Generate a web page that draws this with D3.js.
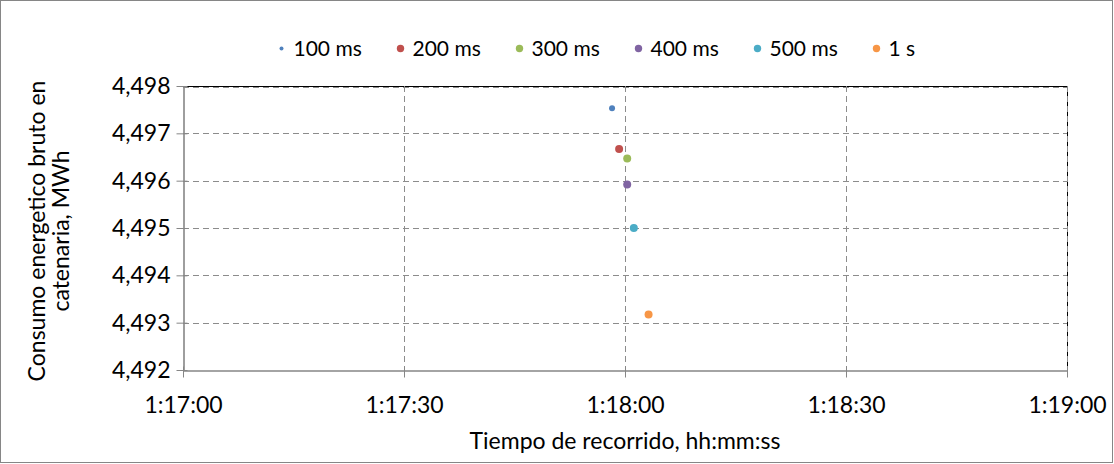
<!DOCTYPE html>
<html><head><meta charset="utf-8">
<script src="https://cdn.jsdelivr.net/npm/d3@7"></script>
<style>body{margin:0;background:#fff}text{font-family:Lato,"Open Sans",sans-serif;fill:#000}</style>
</head><body><svg id="c" width="1114" height="464"></svg>
<script>
const series = ["100 ms","200 ms","300 ms","400 ms","500 ms","1 s"];
const timesSec = [4678.24, 4679.2, 4680.3, 4680.3, 4681.2, 4683.2];
const energyMWh = [4.49753, 4.49667, 4.49647, 4.49592, 4.4950, 4.49317];
const colors = ["#4F81BD","#C0504D","#9BBB59","#8064A2","#4BACC6","#F79646"];
const xTicks = [4620, 4650, 4680, 4710, 4740];
const yTicks = [4.492, 4.493, 4.494, 4.495, 4.496, 4.497, 4.498];

const svg = d3.select("#c");
svg.append("rect").attr("x",0.5).attr("y",0.5).attr("width",1112).attr("height",462)
  .attr("fill","#fff").attr("stroke","#868686");
const L=183, R=1067, T=86, B=370;
const x = d3.scaleLinear().domain([4620,4740]).range([L,R]);
const y = d3.scaleLinear().domain([4.492,4.498]).range([B,T]);
const fmtT = s => { const h=Math.floor(s/3600), m=Math.floor(s%3600/60), ss=Math.round(s%60);
  return h+":"+String(m).padStart(2,"0")+":"+String(ss).padStart(2,"0"); };
const fmtY = v => d3.format(".3f")(v).replace(".",",");
const FS = "23px";

// plot border top/right
svg.append("path").attr("d",`M${L},${T+0.5}H${R+0.5}V${B}`).attr("fill","none").attr("stroke","#000");
// grid
svg.append("g").selectAll("line").data(yTicks.slice(1)).join("line")
  .attr("x1",L).attr("x2",R).attr("y1",d=>Math.round(y(d))+(d===4.498?1.5:0.5)).attr("y2",d=>Math.round(y(d))+(d===4.498?1.5:0.5))
  .attr("stroke","#8c8c8c").attr("stroke-dasharray","6,4");
svg.append("g").selectAll("line").data(xTicks.slice(1)).join("line")
  .attr("y1",T).attr("y2",B).attr("x1",d=>Math.round(x(d))+0.5).attr("x2",d=>Math.round(x(d))+0.5)
  .attr("stroke","#8c8c8c").attr("stroke-dasharray","6,4");

// axes
const yAxis = d3.axisLeft(y).tickValues(yTicks).tickFormat(fmtY).tickSizeInner(7).tickSizeOuter(0).tickPadding(6);
const gy = svg.append("g").attr("transform",`translate(${L+0.5},0)`).call(yAxis);
gy.select(".domain").attr("stroke","#868686").attr("stroke-width",1.6);
gy.selectAll(".tick line").attr("stroke","#868686").attr("x2",-7).attr("x1",4);
gy.selectAll(".tick text").attr("font-size",FS).attr("font-family","Lato,sans-serif");

const xAxis = d3.axisBottom(x).tickValues(xTicks).tickFormat(fmtT).tickSizeInner(7).tickSizeOuter(0).tickPadding(19);
const gx = svg.append("g").attr("transform",`translate(0,${B+0.5})`).call(xAxis);
gx.select(".domain").attr("stroke","#868686").attr("stroke-width",1.6);
gx.selectAll(".tick line").attr("stroke","#868686").attr("y1",-4).attr("y2",7);
gx.selectAll(".tick text").attr("font-size",FS).attr("font-family","Lato,sans-serif");

// points
svg.append("g").selectAll("circle").data(series).join("circle")
  .attr("cx",(d,i)=>x(timesSec[i])).attr("cy",(d,i)=>y(energyMWh[i]))
  .attr("r",(d,i)=>i===0?3:4).attr("fill",(d,i)=>colors[i]);

// legend
const lg = svg.append("g").selectAll("g").data(series).join("g")
  .attr("transform",(d,i)=>`translate(${281.5+i*119},48.5)`);
lg.append("circle").attr("r",(d,i)=>i===0?2:3.7).attr("fill",(d,i)=>colors[i]);
lg.append("text").attr("x",12).attr("y",7.5).attr("font-size","21px").text(d=>d);

// titles
svg.append("text").attr("x",(L+R)/2).attr("y",449).attr("text-anchor","middle").attr("font-size",FS)
  .text("Tiempo de recorrido, hh:mm:ss");
const yt = svg.append("text").attr("transform","translate(0,231) rotate(-90)").attr("text-anchor","middle").attr("font-size",FS);
yt.append("tspan").attr("x",0).attr("y",45).text("Consumo energetico bruto en");
yt.append("tspan").attr("x",0).attr("y",69).text("catenaria, MWh");
</script></body></html>
